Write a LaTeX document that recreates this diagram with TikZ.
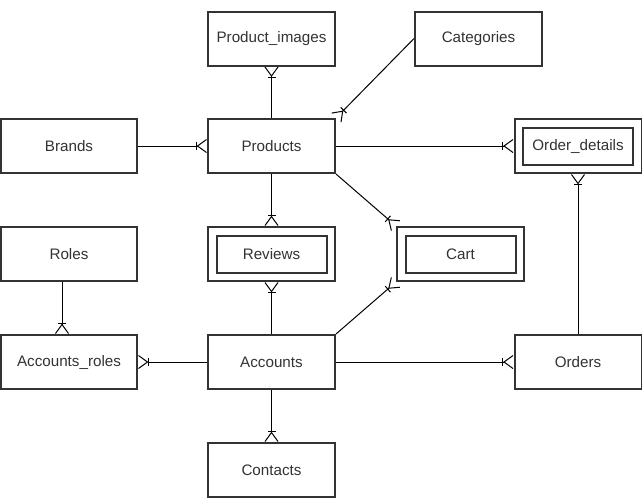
\documentclass[tikz,border=0pt]{standalone}
\usepackage{fontspec}
\setmainfont{Liberation Sans}
\usetikzlibrary{arrows.meta}
\definecolor{boxgray}{HTML}{333333}
\begin{document}
\begin{tikzpicture}[x=1pt,y=-1pt,
  entity/.style={draw=boxgray,line width=2pt,fill=white,text=boxgray,
    minimum width=127pt,minimum height=54pt,inner sep=0pt,
    font=\fontsize{15.2}{18}\selectfont},
  weak/.style={entity,double,double distance=6.5pt,
    minimum width=118.5pt,minimum height=45.5pt,outer sep=5.25pt},
  wide/.style={minimum width=136pt},
  crow/.style={line width=1pt,
    -{Bar[width=8pt,sep=0pt]Straight Barb[reversed,length=9pt,width=13pt,sep=0pt]}}]
\useasboundingbox (0,0) rectangle (642,499);
% entities
\node [entity] (images) at (271.5,38.5) {Product\_images};
\node [entity] (categories) at (478.5,38.5) {Categories};
\node [entity,wide] (brands) at (69,146) {Brands};
\node [entity] (products) at (271.5,146) {Products};
\node [weak] (orderdetails) at (578,146) {Order\_details};
\node [entity,wide] (roles) at (69,254) {Roles};
\node [weak] (reviews) at (271.5,254) {Reviews};
\node [weak] (cart) at (460.5,254) {Cart};
\node [entity,wide] (accroles) at (69,362) {Accounts\_roles};
\node [entity] (accounts) at (271.5,362) {Accounts};
\node [entity] (orders) at (578,362) {Orders};
\node [entity] (contacts) at (271.5,470) {Contacts};
% relations
\draw [crow] (products)--(images);
\draw [crow] (categories.west)--(products.north east);
\draw [crow] (brands)--(products);
\draw [crow] (products)--(orderdetails);
\draw [crow] (products)--(reviews);
\draw [crow] (products.south east)--(cart.north west);
\draw [crow] ([xshift=-7pt]roles.south)--([xshift=-7pt]accroles.north);
\draw [crow] (accounts)--(reviews);
\draw [crow] (accounts.north east)--(cart.south west);
\draw [crow] (accounts)--(accroles);
\draw [crow] (accounts)--(orders);
\draw [crow] (accounts)--(contacts);
\draw [crow] (orders)--(orderdetails);
\end{tikzpicture}
\end{document}
